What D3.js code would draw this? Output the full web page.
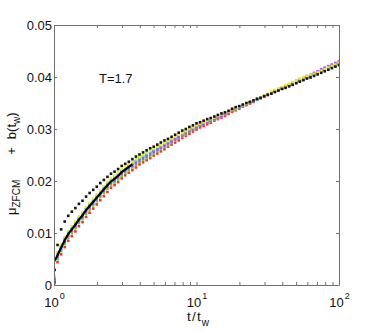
<!DOCTYPE html>
<html><head><meta charset="utf-8">
<script src="https://cdn.jsdelivr.net/npm/d3@7"></script>
<style>
html,body{margin:0;padding:0;background:#fff;}
text{font-family:"Liberation Sans",Arial,Helvetica,sans-serif;fill:#111;}
</style></head>
<body><svg id="c" width="374" height="332"></svg>
<script>
const tValues = [1.010,1.059,1.122,1.189,1.259,1.334,1.413,1.496,1.585,1.679,1.778,1.884,1.995,2.113,2.239,2.371,2.512,2.661,2.818,2.985,3.162,3.350,3.548,3.758,3.981,4.217,4.467,4.732,5.012,5.309,5.623,5.957,6.310,6.683,7.079,7.499,7.943,8.414,8.913,9.441,10.00,10.59,11.22,11.89,12.59,13.34,14.13,14.96,15.85,16.79,17.78,18.84,19.95,21.13,22.39,23.71,25.12,26.61,28.18,29.85,31.62,33.50,35.48,37.58,39.81,42.17,44.67,47.32,50.12,53.09,56.23,59.57,63.10,66.83,70.79,74.99,79.43,84.14,89.13,94.41,100.0];

// solid black fit curve (visible only at early times)
const fitT = [1.000,1.030,1.059,1.090,1.122,1.189,1.259,1.334,1.413,1.496,1.585,1.679,1.778,1.884,1.995,2.113,2.239,2.371,2.512,2.661,2.818,2.985,3.162,3.350,3.548];
const fitValues = [0.0045,0.0051,0.0057,0.0065,0.0072,0.0086,0.0098,0.0107,0.0116,0.0126,0.0134,0.0144,0.0152,0.0160,0.0168,0.0176,0.0184,0.0192,0.0199,0.0204,0.0210,0.0217,0.0222,0.0227,0.0232];

const redValues = [null,0.0044,0.0059,0.0073,0.0085,0.0094,0.0103,0.0113,0.0121,0.0131,0.0139,0.0147,0.0155,0.0163,0.0171,0.0179,0.0187,0.0192,0.0198,0.0205,0.0211,0.0216,0.0221,0.0226,0.0232,0.0236,0.0240,0.0244,0.0249,0.0253,0.0257,0.0261,0.0266,0.0270,0.0274,0.0278,0.0283,0.0287,0.0291,0.0295,0.0299,0.0303,0.0306,0.0309,0.0312,0.0316,0.0319,0.0322,0.0325,0.0329,0.0333,0.0336,0.0339,0.0343,0.0346,0.0349,0.0352,0.0356,0.0359,0.0362,0.0365,0.0369,0.0372,0.0375,0.0378,0.0381,0.0384,0.0387,0.0390,0.0393,0.0396,0.0400,0.0403,0.0406,0.0409,0.0412,0.0415,0.0418,0.0421,0.0424,0.0427];

const greenValues = [0.0003,0.0050,0.0065,0.0079,0.0091,0.0100,0.0109,0.0119,0.0127,0.0137,0.0145,0.0153,0.0161,0.0169,0.0177,0.0185,0.0192,0.0197,0.0203,0.0210,0.0215,0.0220,0.0226,0.0231,0.0236,0.0240,0.0244,0.0248,0.0253,0.0257,0.0261,0.0265,0.0269,0.0273,0.0278,0.0282,0.0286,0.0290,0.0295,0.0298,0.0302,0.0306,0.0309,0.0312,0.0315,0.0318,0.0321,0.0324,0.0328,0.0331,0.0335,0.0338,0.0341,0.0344,0.0348,0.0351,0.0354,0.0357,0.0360,0.0363,0.0366,0.0369,0.0372,0.0375,0.0378,0.0381,0.0384,0.0387,0.0390,0.0393,0.0396,0.0399,0.0402,0.0405,0.0408,0.0411,0.0414,0.0417,0.0420,0.0423,0.0426];

const blueValues = [0.0006,0.0058,0.0073,0.0087,0.0099,0.0108,0.0117,0.0127,0.0135,0.0145,0.0153,0.0161,0.0169,0.0177,0.0185,0.0193,0.0200,0.0205,0.0211,0.0218,0.0223,0.0228,0.0233,0.0238,0.0243,0.0247,0.0251,0.0255,0.0258,0.0262,0.0266,0.0270,0.0274,0.0278,0.0282,0.0286,0.0290,0.0294,0.0298,0.0301,0.0305,0.0308,0.0311,0.0314,0.0317,0.0320,0.0323,0.0326,0.0329,0.0332,0.0336,0.0339,0.0342,0.0345,0.0348,0.0351,0.0354,0.0357,0.0360,0.0363,0.0366,0.0369,0.0372,0.0375,0.0378,0.0381,0.0384,0.0387,0.0390,0.0393,0.0396,0.0399,0.0402,0.0405,0.0408,0.0411,0.0414,0.0417,0.0420,0.0423,0.0426];

const cyanValues = [0.0013,0.0060,0.0075,0.0089,0.0101,0.0110,0.0119,0.0129,0.0137,0.0147,0.0155,0.0163,0.0171,0.0179,0.0187,0.0195,0.0202,0.0207,0.0213,0.0220,0.0224,0.0229,0.0234,0.0239,0.0244,0.0248,0.0252,0.0256,0.0260,0.0264,0.0268,0.0271,0.0275,0.0279,0.0283,0.0287,0.0291,0.0295,0.0299,0.0302,0.0306,0.0308,0.0311,0.0314,0.0317,0.0320,0.0323,0.0326,0.0329,0.0332,0.0336,0.0339,0.0342,0.0345,0.0348,0.0351,0.0354,0.0357,0.0360,0.0363,0.0366,0.0370,0.0373,0.0376,0.0379,0.0382,0.0385,0.0388,0.0391,0.0394,0.0397,0.0400,0.0403,0.0406,0.0409,0.0412,0.0415,0.0418,0.0421,0.0424,0.0427];

const magentaValues = [0.0010,0.0054,0.0069,0.0083,0.0095,0.0104,0.0113,0.0123,0.0131,0.0141,0.0149,0.0157,0.0165,0.0173,0.0181,0.0189,0.0196,0.0201,0.0207,0.0214,0.0219,0.0224,0.0229,0.0234,0.0239,0.0243,0.0247,0.0251,0.0256,0.0260,0.0264,0.0268,0.0272,0.0276,0.0280,0.0284,0.0288,0.0292,0.0296,0.0299,0.0303,0.0307,0.0310,0.0313,0.0316,0.0319,0.0322,0.0325,0.0329,0.0332,0.0336,0.0339,0.0342,0.0345,0.0349,0.0352,0.0355,0.0358,0.0361,0.0364,0.0367,0.0371,0.0374,0.0377,0.0380,0.0383,0.0386,0.0389,0.0393,0.0396,0.0399,0.0402,0.0405,0.0408,0.0411,0.0415,0.0418,0.0421,0.0424,0.0427,0.0430];

const yellowValues = [0.0018,0.0063,0.0078,0.0092,0.0104,0.0113,0.0122,0.0132,0.0140,0.0150,0.0158,0.0166,0.0174,0.0182,0.0190,0.0198,0.0205,0.0210,0.0216,0.0222,0.0227,0.0232,0.0237,0.0242,0.0246,0.0250,0.0254,0.0258,0.0262,0.0266,0.0269,0.0273,0.0277,0.0281,0.0285,0.0289,0.0292,0.0296,0.0300,0.0303,0.0307,0.0310,0.0313,0.0316,0.0319,0.0322,0.0325,0.0328,0.0331,0.0334,0.0338,0.0340,0.0343,0.0346,0.0349,0.0352,0.0355,0.0358,0.0361,0.0364,0.0367,0.0372,0.0375,0.0378,0.0381,0.0384,0.0387,0.0390,0.0393,0.0396,0.0399,0.0402,0.0405,0.0406,0.0409,0.0412,0.0415,0.0418,0.0421,0.0424,0.0427];

const blackValues = [0.0029,0.0077,0.0107,0.0122,0.0133,0.0141,0.0148,0.0156,0.0162,0.0170,0.0177,0.0183,0.0189,0.0196,0.0202,0.0208,0.0214,0.0218,0.0223,0.0229,0.0233,0.0237,0.0242,0.0247,0.0251,0.0255,0.0259,0.0263,0.0266,0.0270,0.0274,0.0278,0.0281,0.0285,0.0289,0.0293,0.0297,0.0300,0.0304,0.0307,0.0311,0.0313,0.0316,0.0319,0.0321,0.0324,0.0327,0.0330,0.0332,0.0335,0.0339,0.0342,0.0344,0.0347,0.0350,0.0352,0.0355,0.0358,0.0360,0.0363,0.0366,0.0368,0.0371,0.0374,0.0377,0.0379,0.0382,0.0385,0.0388,0.0391,0.0394,0.0397,0.0399,0.0402,0.0405,0.0408,0.0411,0.0414,0.0417,0.0420,0.0423];

const yTickValues = [0, 0.01, 0.02, 0.03, 0.04, 0.05];
const yTickLabels = ["0", "0.01", "0.02", "0.03", "0.04", "0.05"];
const xMajorTicks = [1, 10, 100];
const xMajorExponents = ["0", "1", "2"];
const annotation = "T=1.7";

const series = [
  {name:"red", values: redValues, color:"#ff2a2a"},
  {name:"green", values: greenValues, color:"#55dd22"},
  {name:"blue", values: blueValues, color:"#2244ff"},
  {name:"cyan", values: cyanValues, color:"#22d8e0"},
  {name:"magenta", values: magentaValues, color:"#b44cff"},
  {name:"yellow", values: yellowValues, color:"#eeee10"}
];

const svg = d3.select("#c");
const L = 54, R = 339, T = 25, B = 285;
const x = d3.scaleLog().domain([1, 100]).range([L, R]);
const y = d3.scaleLinear().domain([0, 0.05]).range([B, T]);

svg.append("defs").append("clipPath").attr("id","clip")
  .append("rect").attr("x",L).attr("y",T).attr("width",R-L).attr("height",B-T);

const plot = svg.append("g").attr("clip-path","url(#clip)");
const ms = 2.6;
function drawDots(vals, color) {
  const pts = tValues.map((t,i)=>({t, v: vals[i]})).filter(d=>d.v!=null && d.v!==undefined);
  plot.append("g").selectAll("rect").data(pts).join("rect")
    .attr("x", d=>x(d.t)-ms/2).attr("y", d=>y(d.v)-ms/2)
    .attr("width", ms).attr("height", ms).attr("fill", color);
}
series.forEach(s=>drawDots(s.values, s.color));

const fitPts = fitT.map((t,i)=>({t, v: fitValues[i]}));
plot.append("path").datum(fitPts)
  .attr("fill","none").attr("stroke","#000").attr("stroke-width",2.2)
  .attr("d", d3.line().x(d=>x(d.t)).y(d=>y(d.v)).curve(d3.curveMonotoneX));

drawDots(blackValues, "#151515");

// axes
const axCol = "#707070";
function styleAxis(g){
  g.select(".domain").attr("stroke", axCol).attr("stroke-width",1);
  g.selectAll(".tick line").attr("stroke", axCol);
  g.selectAll(".tick text").remove();
}
svg.append("g").attr("transform",`translate(0,${B})`)
  .call(d3.axisBottom(x).tickSize(-3).tickSizeOuter(0).tickFormat("")).call(styleAxis);
svg.append("g").attr("transform",`translate(0,${T})`)
  .call(d3.axisTop(x).tickSize(-3).tickSizeOuter(0).tickFormat("")).call(styleAxis);
svg.append("g").attr("transform",`translate(${L},0)`)
  .call(d3.axisLeft(y).tickValues(yTickValues).tickSize(-3).tickSizeOuter(0).tickFormat("")).call(styleAxis);
svg.append("g").attr("transform",`translate(${R},0)`)
  .call(d3.axisRight(y).tickValues(yTickValues).tickSize(-3).tickSizeOuter(0).tickFormat("")).call(styleAxis);

// y tick labels
svg.append("g").selectAll("text").data(yTickValues).join("text")
  .attr("x", L-2).attr("y", d=>y(d)).attr("dy","0.36em")
  .attr("text-anchor","end").attr("font-size",13)
  .text((d,i)=>yTickLabels[i]);

// x tick labels
const xl = svg.append("g");
xMajorTicks.forEach((v,i)=>{
  const t = xl.append("text").attr("x", x(v)-9.7).attr("y", 306.5).attr("font-size",13);
  t.append("tspan").text("10");
  t.append("tspan").attr("font-size",9).attr("dy",-8).attr("dx",1).text(xMajorExponents[i]);
});

// x label
const xt = svg.append("text").attr("x", 187).attr("y", 320.5).attr("font-size",13.5).attr("letter-spacing",1.2);
xt.append("tspan").text("t/t");
xt.append("tspan").attr("font-size",10).attr("letter-spacing",0).attr("dy",5.5).text("w");

// y label
const yt = svg.append("text").attr("transform","translate(16,215) rotate(-90)").attr("font-size",13);
yt.append("tspan").text("\u03bc");
yt.append("tspan").attr("font-size",10).attr("dy",4).text("ZFCM");
yt.append("tspan").attr("dy",-4).attr("dx",25).text("+");
yt.append("tspan").attr("dx",8).text("b(t");
yt.append("tspan").attr("font-size",10).attr("dy",4).text("w");
yt.append("tspan").attr("dy",-4).text(")");

// annotation
svg.append("text").attr("x",99).attr("y",83.3).attr("font-size",13).text(annotation);
</script></body></html>
